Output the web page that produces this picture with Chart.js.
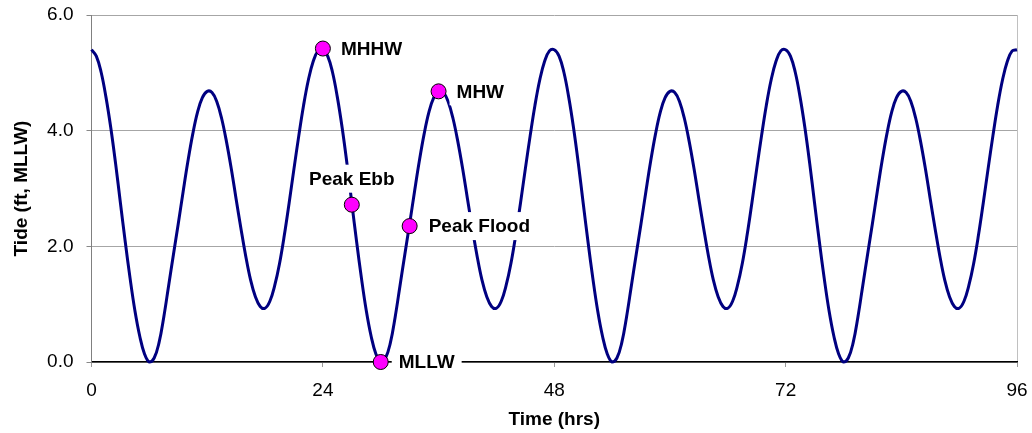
<!DOCTYPE html>
<html>
<head>
<meta charset="utf-8">
<script src="https://cdn.jsdelivr.net/npm/chart.js@4"></script>
<style>
  body { margin: 0; background: #fff; }
  #wrap { width: 1032px; height: 433px; }
</style>
</head>
<body>
<div id="wrap"><canvas id="tideChart"></canvas></div>
<script>
// sample times (hrs) and tide height (ft, MLLW)
const hours = [
  0, 0.5, 1, 1.5, 2, 2.5, 3, 3.5, 4, 4.5, 5, 5.5,
  6, 6.5, 7, 7.5, 8, 8.5, 9, 9.5, 10, 10.5, 11, 11.5,
  12, 12.5, 13, 13.5, 14, 14.5, 15, 15.5, 16, 16.5, 17, 17.5,
  18, 18.5, 19, 19.5, 20, 20.5, 21, 21.5, 22, 22.5, 23, 23.5,
  24, 24.5, 25, 25.5, 26, 26.5, 27, 27.5, 28, 28.5, 29, 29.5,
  30, 30.5, 31, 31.5, 32, 32.5, 33, 33.5, 34, 34.5, 35, 35.5,
  36, 36.5, 37, 37.5, 38, 38.5, 39, 39.5, 40, 40.5, 41, 41.5,
  42, 42.5, 43, 43.5, 44, 44.5, 45, 45.5, 46, 46.5, 47, 47.5,
  48, 48.5, 49, 49.5, 50, 50.5, 51, 51.5, 52, 52.5, 53, 53.5,
  54, 54.5, 55, 55.5, 56, 56.5, 57, 57.5, 58, 58.5, 59, 59.5,
  60, 60.5, 61, 61.5, 62, 62.5, 63, 63.5, 64, 64.5, 65, 65.5,
  66, 66.5, 67, 67.5, 68, 68.5, 69, 69.5, 70, 70.5, 71, 71.5,
  72, 72.5, 73, 73.5, 74, 74.5, 75, 75.5, 76, 76.5, 77, 77.5,
  78, 78.5, 79, 79.5, 80, 80.5, 81, 81.5, 82, 82.5, 83, 83.5,
  84, 84.5, 85, 85.5, 86, 86.5, 87, 87.5, 88, 88.5, 89, 89.5,
  90, 90.5, 91, 91.5, 92, 92.5, 93, 93.5, 94, 94.5, 95, 95.5,
  96,
];
const tide = [
  5.40, 5.29, 5.01, 4.58, 4.05, 3.43, 2.75, 2.08, 1.45, 0.89, 0.45, 0.14,
  0.00, 0.07, 0.33, 0.78, 1.32, 1.86, 2.39, 2.94, 3.47, 3.94, 4.32, 4.57,
  4.68, 4.66, 4.50, 4.21, 3.81, 3.34, 2.82, 2.31, 1.83, 1.42, 1.13, 0.96,
  0.93, 1.05, 1.32, 1.70, 2.19, 2.75, 3.34, 3.91, 4.44, 4.88, 5.20, 5.38,
  5.40, 5.29, 5.01, 4.58, 4.05, 3.43, 2.75, 2.08, 1.45, 0.89, 0.45, 0.14,
  0.00, 0.07, 0.33, 0.78, 1.32, 1.86, 2.39, 2.94, 3.47, 3.94, 4.32, 4.57,
  4.68, 4.66, 4.50, 4.21, 3.81, 3.34, 2.82, 2.31, 1.83, 1.42, 1.13, 0.96,
  0.93, 1.05, 1.32, 1.70, 2.19, 2.75, 3.34, 3.91, 4.44, 4.88, 5.20, 5.38,
  5.40, 5.29, 5.01, 4.58, 4.05, 3.43, 2.75, 2.08, 1.45, 0.89, 0.45, 0.14,
  0.00, 0.07, 0.33, 0.78, 1.32, 1.86, 2.39, 2.94, 3.47, 3.94, 4.32, 4.57,
  4.68, 4.66, 4.50, 4.21, 3.81, 3.34, 2.82, 2.31, 1.83, 1.42, 1.13, 0.96,
  0.93, 1.05, 1.32, 1.70, 2.19, 2.75, 3.34, 3.91, 4.44, 4.88, 5.20, 5.38,
  5.40, 5.29, 5.01, 4.58, 4.05, 3.43, 2.75, 2.08, 1.45, 0.89, 0.45, 0.14,
  0.00, 0.07, 0.33, 0.78, 1.32, 1.86, 2.39, 2.94, 3.47, 3.94, 4.32, 4.57,
  4.68, 4.66, 4.50, 4.21, 3.81, 3.34, 2.82, 2.31, 1.83, 1.42, 1.13, 0.96,
  0.93, 1.05, 1.32, 1.70, 2.19, 2.75, 3.34, 3.91, 4.44, 4.88, 5.20, 5.38,
  5.40,
];

// labelled points
const markNames = ["MHHW", "Peak Ebb", "MLLW", "Peak Flood", "MHW"];
const markHours = [24, 27, 30, 33, 36];
const markTide = [5.42, 2.72, 0.00, 2.35, 4.68];

const xTicks = [0, 24, 48, 72, 96];
const yTicks = [0, 2, 4, 6];

const FONT = "'Liberation Sans', Arial, sans-serif";

// label text placement relative to each marker (dx, dy, align)
const labelPos = {
  "MHHW": [18, 0, "left"],
  "Peak Ebb": [0, -26, "center"],
  "MLLW": [18, 0, "left"],
  "Peak Flood": [19, 0, "left"],
  "MHW": [18, 0, "left"],
};

const pointLabels = {
  id: "pointLabels",
  afterDatasetsDraw(chart) {
    const c = chart.ctx;
    const xs = chart.scales.x, ys = chart.scales.y;
    c.save();
    c.font = "bold 19px " + FONT;
    c.textBaseline = "middle";
    markNames.forEach((name, i) => {
      const px = xs.getPixelForValue(markHours[i]);
      const py = ys.getPixelForValue(markTide[i]);
      const [dx, dy, align] = labelPos[name];
      const w = c.measureText(name).width;
      let left = px + dx;
      if (align === "center") left = px + dx - w / 2;
      const ty = py + dy;
      c.fillStyle = "#fff";
      c.fillRect(left - 7, ty - 14, w + 14, 28);
      c.fillStyle = "#000";
      c.textAlign = "left";
      c.fillText(name, left, ty + 1);
    });
    c.restore();
  },
};

new Chart(document.getElementById("tideChart"), {
  type: "scatter",
  data: {
    datasets: [
      {
        label: "points",
        data: markHours.map((h, i) => ({ x: h, y: markTide[i] })),
        pointRadius: 7.5,
        pointBackgroundColor: "#ff00ff",
        pointBorderColor: "#000",
        pointBorderWidth: 1,
        clip: false,
        order: 0,
      },
      {
        label: "tide",
        data: hours.map((h, i) => ({ x: h, y: tide[i] })),
        showLine: true,
        borderColor: "#000080",
        borderWidth: 3,
        pointRadius: 0,
        tension: 0.4,
        clip: false,
        order: 1,
      },
    ],
  },
  plugins: [pointLabels],
  options: {
    responsive: true,
    maintainAspectRatio: false,
    animation: false,
    layout: { padding: { top: 15, right: 15, left: 0, bottom: 0 } },
    plugins: {
      legend: { display: false },
      tooltip: { enabled: false },
    },
    scales: {
      x: {
        type: "linear",
        min: 0,
        max: 96,
        afterBuildTicks: (s) => { s.ticks = xTicks.map((v) => ({ value: v })); },
        afterFit: (s) => {
          s.height = 71;
          s.paddingLeft = 0;
          s.paddingRight = 0;
        },
        ticks: {
          color: "#000",
          font: { family: FONT, size: 19 },
          padding: 12,
        },
        grid: {
          color: (ctx) => (ctx.tick && ctx.tick.value === 96 ? "#c0c0c0" : "rgba(0,0,0,0)"),
          tickColor: "#999",
          tickLength: 5,
        },
        border: { color: "#000", width: 1.5 },
        title: {
          display: true,
          text: "Time (hrs)",
          color: "#000",
          font: { family: FONT, size: 19, weight: "bold" },
          padding: { top: 0, bottom: 2 },
        },
      },
      y: {
        min: 0,
        max: 6,
        afterBuildTicks: (s) => { s.ticks = yTicks.map((v) => ({ value: v })); },
        afterFit: (s) => {
          s.width = 91.5;
          s.paddingTop = 0;
          s.paddingBottom = 0;
        },
        ticks: {
          color: "#000",
          font: { family: FONT, size: 19 },
          padding: 13,
          callback: (v) => v.toFixed(1),
        },
        grid: {
          color: "#a6a6a6",
          tickColor: "#888",
          tickLength: 5,
        },
        border: { color: "#808080" },
        title: {
          display: true,
          text: "Tide (ft, MLLW)",
          color: "#000",
          font: { family: FONT, size: 19, weight: "bold" },
          padding: { top: 10, bottom: 0 },
        },
      },
    },
  },
});
</script>
</body>
</html>
